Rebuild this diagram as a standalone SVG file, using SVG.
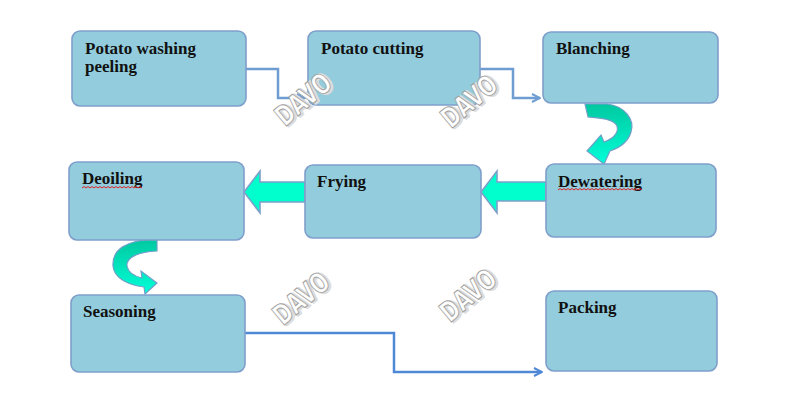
<svg xmlns="http://www.w3.org/2000/svg" width="800" height="400" viewBox="0 0 800 400">
<defs>
<style>
.box{fill:#93cddd;stroke:#7f9fcb;stroke-width:1.6}
.lbl{font-family:"Liberation Serif","Times New Roman",serif;font-weight:bold;font-size:17px;fill:#111}
.conn{fill:none;stroke-width:2.5;stroke-linejoin:miter}
.block{fill:#00ffcc;stroke:#7f9fcb;stroke-width:1.6;stroke-linejoin:miter}
.curve{stroke:#6fa0c8;stroke-width:1.2}
.squig{fill:none;stroke:#e02020;stroke-width:1}
.wm{font-family:"DejaVu Sans",sans-serif;font-weight:bold;font-size:28px;fill:#ffffff;stroke:#a0a0a0;stroke-width:1}
.wms{font-family:"DejaVu Sans",sans-serif;font-weight:bold;font-size:28px;fill:#dcdcdc;stroke:#dcdcdc;stroke-width:2.5}
</style>
<marker id="arrA" viewBox="0 0 10 10" refX="9" refY="5" markerWidth="4" markerHeight="4" markerUnits="strokeWidth" orient="auto">
<path d="M1,1 L9,5 L1,9" fill="none" stroke="#6f9dd2" stroke-width="2"/>
</marker>
<marker id="arrB" viewBox="0 0 10 10" refX="9" refY="5" markerWidth="4" markerHeight="4" markerUnits="strokeWidth" orient="auto">
<path d="M1,1 L9,5 L1,9" fill="none" stroke="#4f88d6" stroke-width="2"/>
</marker>
<linearGradient id="g1" x1="0" y1="0" x2="0" y2="1">
<stop offset="0" stop-color="#00c8a0"/>
<stop offset="1" stop-color="#00ffd8"/>
</linearGradient>
</defs>

<g id="connectors">
<path class="conn" stroke="#6f9dd2" d="M246,69 H278 V98 H305" marker-end="url(#arrA)"/>
<path class="conn" stroke="#6f9dd2" d="M480,69 H513 V98 H540" marker-end="url(#arrA)"/>
<path class="conn" stroke="#4f88d6" d="M245,333 H394 V372 H542" marker-end="url(#arrB)"/>
<path class="block" d="M546,182 H497 V171 L481,192 L497,213 V201 H546 Z"/>
<path class="block" d="M305,182 H260 V171 L244,192 L260,213 V202 H305 Z"/>
<path class="curve" fill="url(#g1)" d="M585,104 L607,104 C625,106 635,120 631,132 C628,142 619,148 610,151 L604,164 L587,151 L601,135 L604,142 C613,139 619,133 617,126 C613,118 597,118 588,117 Z"/>
<path class="curve" fill="url(#g1)" d="M157,239 L157,251 C137,252 126,258 127,266 C128,272 134,276 142,278 L141,271 L157,283 L145,294 L144,287 C128,285 114,278 113,266 C112,250 125,240 157,239 Z"/>
</g>

<g id="n1"><rect class="box" x="72" y="31" width="174" height="75" rx="8"/><text class="lbl" x="85" y="54">Potato washing</text><text class="lbl" x="85" y="72">peeling</text></g>
<g id="n2"><rect class="box" x="308" y="31" width="172" height="74" rx="8"/><text class="lbl" x="321" y="54">Potato cutting</text></g>
<g id="n3"><rect class="box" x="543" y="32" width="175" height="71" rx="8"/><text class="lbl" x="556" y="54">Blanching</text></g>
<g id="n4"><rect class="box" x="546" y="164" width="170" height="73" rx="8"/><text class="lbl" x="558" y="187">Dewatering</text><path class="squig" d="M558,190 l2,-1.5 l2,1.5 l2,-1.5 l2,1.5 l2,-1.5 l2,1.5 l2,-1.5 l2,1.5 l2,-1.5 l2,1.5 l2,-1.5 l2,1.5 l2,-1.5 l2,1.5 l2,-1.5 l2,1.5 l2,-1.5 l2,1.5 l2,-1.5 l2,1.5 l2,-1.5 l2,1.5 l2,-1.5 l2,1.5 l2,-1.5 l2,1.5 l2,-1.5 l2,1.5 l2,-1.5 l2,1.5 l2,-1.5 l2,1.5 l2,-1.5 l2,1.5 l2,-1.5 l2,1.5 l2,-1.5 l2,1.5 l2,-1.5 l2,1.5 l2,-1.5 l2,1.5"/></g>
<g id="n5"><rect class="box" x="305" y="165" width="176" height="73" rx="8"/><text class="lbl" x="317" y="187">Frying</text></g>
<g id="n6"><rect class="box" x="69" y="162" width="175" height="78" rx="8"/><text class="lbl" x="82" y="184">Deoiling</text><path class="squig" d="M82,188 l2,-1.5 l2,1.5 l2,-1.5 l2,1.5 l2,-1.5 l2,1.5 l2,-1.5 l2,1.5 l2,-1.5 l2,1.5 l2,-1.5 l2,1.5 l2,-1.5 l2,1.5 l2,-1.5 l2,1.5 l2,-1.5 l2,1.5 l2,-1.5 l2,1.5 l2,-1.5 l2,1.5 l2,-1.5 l2,1.5 l2,-1.5 l2,1.5 l2,-1.5 l2,1.5 l2,-1.5 l2,1.5"/></g>
<g id="n7"><rect class="box" x="71" y="295" width="174" height="77" rx="8"/><text class="lbl" x="83" y="317">Seasoning</text></g>
<g id="n8"><rect class="box" x="546" y="291" width="171" height="80" rx="8"/><text class="lbl" x="558" y="313">Packing</text></g>

<g id="watermarks">
<g transform="translate(303,99) rotate(-40)"><text class="wms" x="1.5" y="11.5" text-anchor="middle" textLength="64" lengthAdjust="spacingAndGlyphs">DAVO</text><text class="wm" x="0" y="10" text-anchor="middle" textLength="64" lengthAdjust="spacingAndGlyphs">DAVO</text></g>
<g transform="translate(469,101) rotate(-40)"><text class="wms" x="1.5" y="11.5" text-anchor="middle" textLength="64" lengthAdjust="spacingAndGlyphs">DAVO</text><text class="wm" x="0" y="10" text-anchor="middle" textLength="64" lengthAdjust="spacingAndGlyphs">DAVO</text></g>
<g transform="translate(301,298) rotate(-40)"><text class="wms" x="1.5" y="11.5" text-anchor="middle" textLength="64" lengthAdjust="spacingAndGlyphs">DAVO</text><text class="wm" x="0" y="10" text-anchor="middle" textLength="64" lengthAdjust="spacingAndGlyphs">DAVO</text></g>
<g transform="translate(468,295) rotate(-40)"><text class="wms" x="1.5" y="11.5" text-anchor="middle" textLength="64" lengthAdjust="spacingAndGlyphs">DAVO</text><text class="wm" x="0" y="10" text-anchor="middle" textLength="64" lengthAdjust="spacingAndGlyphs">DAVO</text></g>
</g>
</svg>
